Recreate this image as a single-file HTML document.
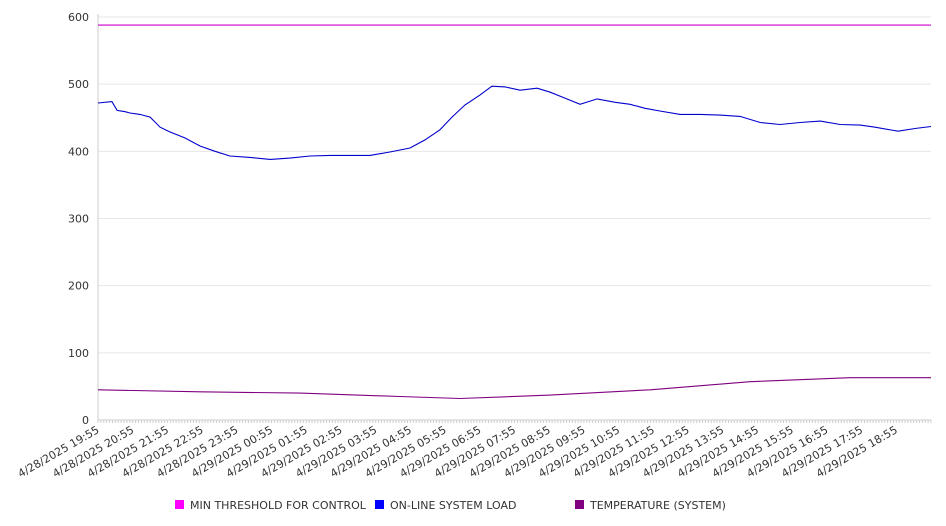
<!DOCTYPE html>
<html><head><meta charset="utf-8"><style>
body{margin:0;background:#fff;font-family:"DejaVu Sans","Liberation Sans",sans-serif}
svg{display:block}
</style></head><body>
<svg id="chart" width="946" height="526" xmlns="http://www.w3.org/2000/svg"></svg>
<script>
const tickLabels=["4/28/2025 19:55","4/28/2025 20:55","4/28/2025 21:55","4/28/2025 22:55","4/28/2025 23:55","4/29/2025 00:55","4/29/2025 01:55","4/29/2025 02:55","4/29/2025 03:55","4/29/2025 04:55","4/29/2025 05:55","4/29/2025 06:55","4/29/2025 07:55","4/29/2025 08:55","4/29/2025 09:55","4/29/2025 10:55","4/29/2025 11:55","4/29/2025 12:55","4/29/2025 13:55","4/29/2025 14:55","4/29/2025 15:55","4/29/2025 16:55","4/29/2025 17:55","4/29/2025 18:55"];
const yTicks=[0,100,200,300,400,500,600];
const loadHours=[0,0.4,0.55,0.78,0.92,1.21,1.5,1.79,2.07,2.5,2.94,3.37,3.8,4.38,4.96,5.53,6.11,6.69,7.26,7.84,8.41,8.99,9.42,9.85,10.2,10.57,11.01,11.35,11.73,12.16,12.65,13.03,13.46,13.89,14.38,14.9,15.33,15.76,16.19,16.77,17.35,17.92,18.5,19.08,19.65,20.23,20.81,21.38,21.96,22.39,23.05,23.54,24.0];
const loadValues=[472,474,461,459,457,455,451,436,429,420,408,400,393,391,388,390,393,394,394,394,399,405,417,432,451,469,484,497,496,491,494,488,479,470,478,473,470,464,460,455,455,454,452,443,440,443,445,440,439,436,430,434,437];
const tempHours=[0,2.94,5.82,8.7,10.43,13.03,15.91,18.79,21.67,24.0];
const tempValues=[45,42,40,35,32,37,45,57,63,63];
const thrHours=[0,24.0];
const thrValues=[588,588];
const X0=98,X1=931,Y0=420,Y1=17,H=24.0;
const sx=h=>X0+(X1-X0)*h/H;
const sy=v=>Y0-(Y0-Y1)*v/600;
const svg=document.getElementById('chart');
const NS='http://www.w3.org/2000/svg';
function mk(t,a){const e=document.createElementNS(NS,t);for(const k in a)e.setAttribute(k,a[k]);svg.appendChild(e);return e;}
yTicks.forEach(v=>{
  const g=mk('line',{x1:X0,x2:X1,y1:sy(v),y2:sy(v),stroke:'#e6e6e6','stroke-width':1});
  
  
  const t=mk('text',{x:89,y:sy(v)+4,'text-anchor':'end','font-size':11,fill:'#333'});
  t.textContent=v;
  
  
});
const ax=mk('line',{x1:X0,x2:X0,y1:Y1-3,y2:Y0,stroke:'#ccc'});


const bx=mk('line',{x1:X0,x2:X1,y1:Y0,y2:Y0,stroke:'#ccc'});


for(let i=0;i<=H*12;i++){const x=X0+(X1-X0)*i/(H*12);const tk=mk('line',{x1:x,x2:x,y1:Y0,y2:Y0+3,stroke:'#ccc'});

}
tickLabels.forEach((l,i)=>{
  const x=sx(i);
  const t=mk('text',{x:x+2,y:Y0+12,'text-anchor':'end','font-size':11,fill:'#333',transform:`rotate(-30 ${x+2} ${Y0+12})`});
  t.textContent=l;
  
  
});
function line(hs,vs,c,name){
  const d=hs.map((h,i)=>(i?'L':'M')+sx(h).toFixed(1)+','+sy(vs[i]).toFixed(1)).join('');
  const p=mk('path',{d:d,fill:'none',stroke:c,'stroke-width':1.1});
  
  
}
line(thrHours,thrValues,'#cc00cc','min-threshold-line');
line(loadHours,loadValues,'#0000cc','system-load-line');
line(tempHours,tempValues,'#800080','temperature-line');
const leg=[['#ff00ff','MIN THRESHOLD FOR CONTROL',175,'legend-min-threshold'],['#0000ff','ON-LINE SYSTEM LOAD',375,'legend-system-load'],['#800080','TEMPERATURE (SYSTEM)',575,'legend-temperature']];
leg.forEach(([c,l,x,n])=>{
  const r=mk('rect',{x:x,y:500,width:9,height:9,fill:c});
  
  
  const t=mk('text',{x:x+15,y:509,'font-size':11,fill:'#333'});
  t.textContent=l;
  
  
});
</script>
</body></html>
